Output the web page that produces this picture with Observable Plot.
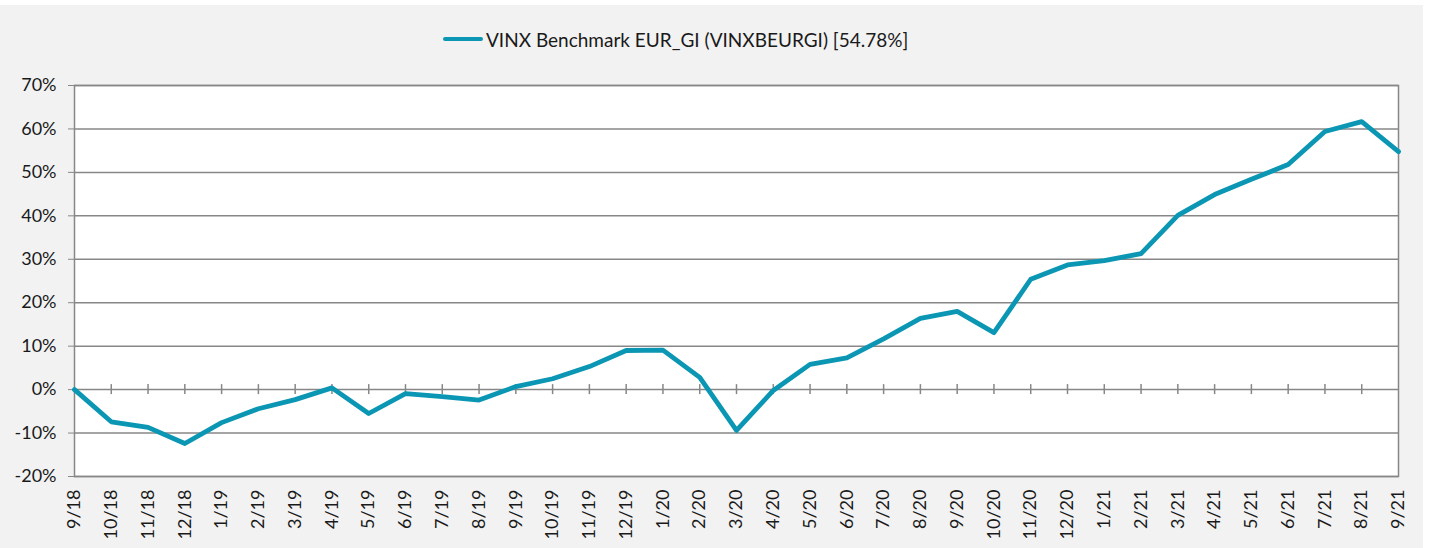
<!DOCTYPE html>
<html>
<head>
<meta charset="utf-8">
<script src="https://cdn.jsdelivr.net/npm/d3@7"></script>
<script src="https://cdn.jsdelivr.net/npm/@observablehq/plot@0.6"></script>
<style>
  html, body { margin: 0; padding: 0; background: #ffffff; }
  #wrap { position: absolute; left: 0; top: 5px; width: 1423px; height: 543px; background: #f2f2f2; overflow: hidden; }
  #legend { position: absolute; left: 443px; top: 19px; height: 30px; display: flex; align-items: center;
            font-family: Lato, "Open Sans", sans-serif; font-size: 19px; color: #1a1a1a; white-space: nowrap; }
  #legend .sw { display: inline-block; width: 40px; height: 4.5px; border-radius: 3px; background: #0b97b4; margin-right: 3px; }
  #chart { position: absolute; left: 0; top: 65px; }
</style>
</head>
<body>
<div id="wrap">
  <div id="legend"><span class="sw"></span><span id="legendText"></span></div>
  <div id="chart"></div>
</div>
<script>
const seriesName = "VINX Benchmark EUR_GI (VINXBEURGI) [54.78%]";
const months = ["9/18","10/18","11/18","12/18","1/19","2/19","3/19","4/19","5/19","6/19","7/19","8/19",
  "9/19","10/19","11/19","12/19","1/20","2/20","3/20","4/20","5/20","6/20","7/20","8/20",
  "9/20","10/20","11/20","12/20","1/21","2/21","3/21","4/21","5/21","6/21","7/21","8/21","9/21"];
const values = [0, -7.4, -8.7, -12.4, -7.6, -4.4, -2.3, 0.4, -5.5, -0.9, -1.6, -2.4,
  0.7, 2.5, 5.3, 9.0, 9.1, 2.8, -9.4, -0.2, 5.8, 7.3, 11.7, 16.4,
  18.0, 13.1, 25.4, 28.7, 29.7, 31.3, 40.1, 44.9, 48.4, 51.8, 59.4, 61.7, 54.78];
const yTicks = [-20, -10, 0, 10, 20, 30, 40, 50, 60, 70];

document.getElementById("legendText").textContent = seriesName;

const data = months.map((m, i) => ({month: m, value: values[i]}));
const grey = "#878787";
const lineColor = "#0b97b4";

const chart = Plot.plot({
  width: 1423,
  height: 478,
  marginTop: 15,
  marginBottom: 72,
  marginLeft: 74,
  marginRight: 25,
  style: {background: "transparent", fontFamily: "Lato, 'Open Sans', sans-serif", fontSize: "18px", color: "#1a1a1a"},
  x: {type: "point", domain: months, padding: 0, round: false, label: null},
  y: {domain: [yTicks[0], yTicks[yTicks.length - 1]], label: null},
  marks: [
    Plot.frame({fill: "white", stroke: null}),
    Plot.gridY(yTicks, {stroke: grey, strokeOpacity: 1, strokeWidth: 1.5}),
    Plot.frame({stroke: grey, strokeWidth: 1.5}),
    Plot.ruleX(months.slice(1, -1), {y1: 0, y2: 0, insetTop: -5, insetBottom: -5, stroke: grey, strokeWidth: 1.5}),
    Plot.axisY({ticks: yTicks, tickFormat: d => d + "%", tickSize: 6, tickPadding: 12, stroke: grey, label: null}),
    Plot.axisX({tickRotate: -90, tickSize: 0, tickPadding: 13, label: null}),
    Plot.line(data, {x: "month", y: "value", stroke: lineColor, strokeWidth: 4.8})
  ]
});
document.getElementById("chart").appendChild(chart);
</script>
</body>
</html>
